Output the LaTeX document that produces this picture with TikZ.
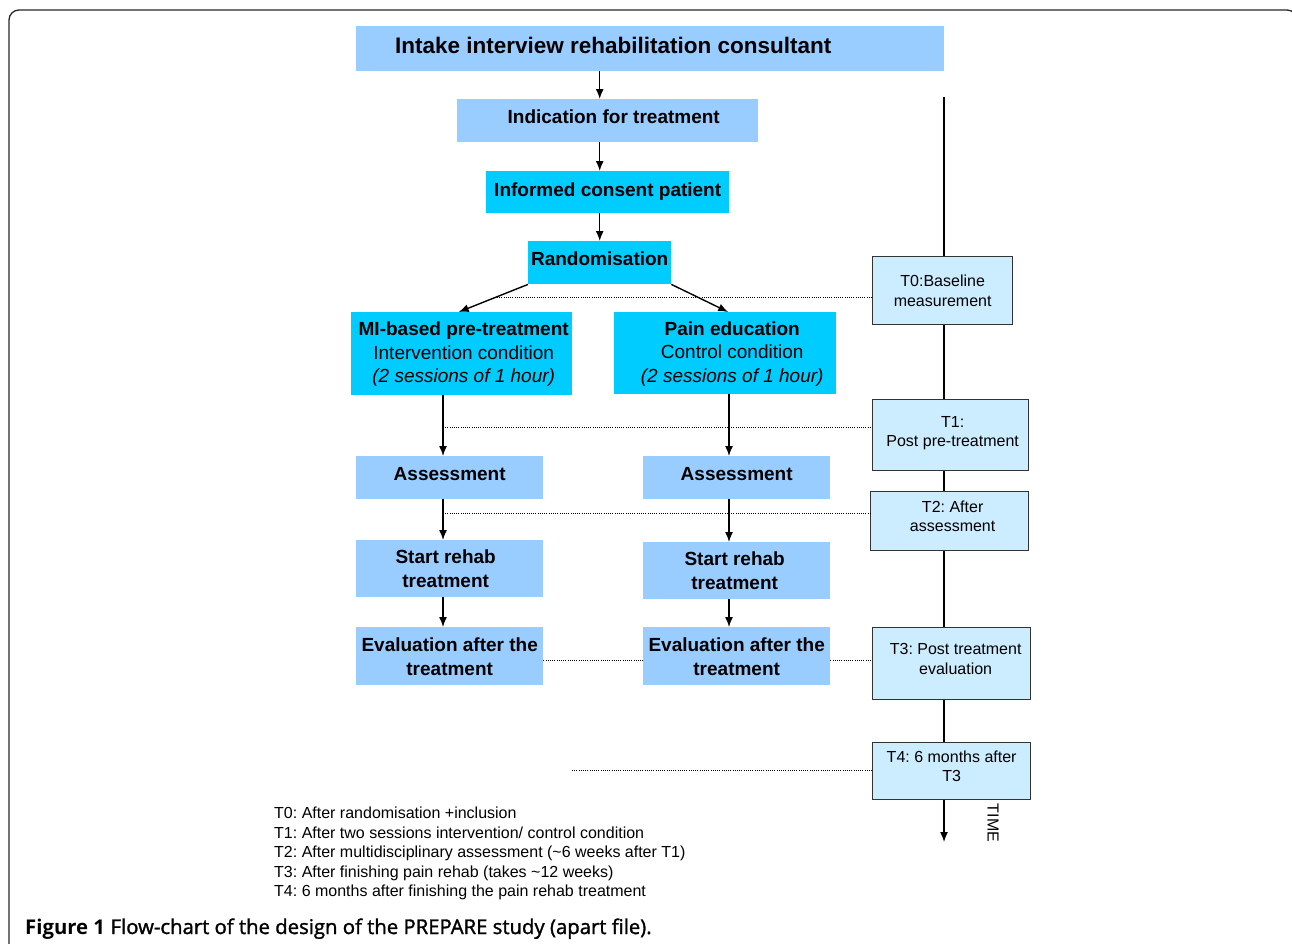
\documentclass[tikz,border=0pt]{standalone}
\usepackage{fontspec}
\setmainfont{Liberation Sans}
\newfontfamily\capfont{Open Sans}
\newfontfamily\capsemi[FakeBold=1.5]{Open Sans}
\usetikzlibrary{arrows.meta,calc}
\definecolor{lblue}{HTML}{99CCFF}
\definecolor{cyanb}{HTML}{00CCFF}
\definecolor{tbox}{HTML}{CCECFF}
\definecolor{tborder}{HTML}{333333}
\frenchspacing
\newcommand\upby[2]{\raisebox{#1}[\height][\depth]{#2}}
\newcommand\uptwo[2]{\raisebox{#1}[\height][\depth]{\begin{tabular}{@{}c@{}}#2\end{tabular}}}
\tikzset{
  box/.style={anchor=north west, inner sep=0pt, align=center, text=black},
  bluebox/.style={box, fill=lblue},
  cyanbox/.style={box, fill=cyanb},
  timebox/.style={box, fill=tbox, draw=tborder, line width=1.3pt},
  arr/.style={line width=1.4pt, -{Latex[length=10pt,width=8pt]}},
  dots/.style={line width=1pt, dash pattern=on 1pt off 1.2pt},
  big/.style={font=\fontsize{19}{23.5}\selectfont},
  bigb/.style={font=\fontsize{19}{24}\selectfont\bfseries},
  small/.style={font=\fontsize{16}{19.5}\selectfont},
}
\begin{document}
\begin{tikzpicture}[x=1pt,y=-1pt]
\useasboundingbox (0,0) rectangle (1292,943);
\clip (0,0) rectangle (1292,943);
\draw[line width=1.3pt, color=black!85, rounded corners=10pt] (9,1000) -- (9,10) -- (1297,10) -- (1297,1000);

% timeline
\coordinate (ttop) at (944,97);
\coordinate (tend) at (944,842);
\draw[arr] (ttop) -- (tend);

% main flow
\node[bluebox, minimum width=588, minimum height=45, font=\fontsize{22.5}{27}\selectfont\bfseries] (title) at (356,26) {\hspace*{-74pt}\upby{3pt}{Intake interview rehabilitation consultant}};
\node[bluebox, bigb, minimum width=301, minimum height=43] (ind) at (457,99) {\hspace*{12pt}\upby{4pt}{Indication for treatment}};
\node[cyanbox, bigb, minimum width=243, minimum height=42] (cons) at (486,171) {\upby{1pt}{Informed consent patient}};
\node[cyanbox, bigb, minimum width=143, minimum height=43] (rand) at (528,241) {\upby{4pt}{Randomisation}};

\node[cyanbox, big, minimum width=221, minimum height=83] (mi) at (351,312) {\hspace*{4pt}\uptwo{-1pt}{\textbf{MI-based pre-treatment}\\Intervention condition\\\textit{(2 sessions of 1 hour)}}};
\node[cyanbox, big, minimum width=222, minimum height=82] (pain) at (614,312) {\hspace*{14pt}\uptwo{-1pt}{\textbf{Pain education}\\Control condition\\\textit{(2 sessions of 1 hour)}}};

\node[bluebox, bigb, minimum width=187, minimum height=43] (assL) at (356,456) {\upby{4pt}{Assessment}};
\node[bluebox, bigb, minimum width=187, minimum height=43] (assR) at (643,456) {\upby{4pt}{Assessment}};
\node[bluebox, bigb, minimum width=187, minimum height=57] (startL) at (356,540) {\hspace*{-8pt}Start rehab\\\hspace*{-8pt}treatment};
\node[bluebox, bigb, minimum width=187, minimum height=57] (startR) at (643,542) {\hspace*{-4pt}Start rehab\\\hspace*{-4pt}treatment};
\node[bluebox, bigb, minimum width=187, minimum height=58] (evalL) at (356,627) {Evaluation after the\\treatment};
\node[bluebox, bigb, minimum width=187, minimum height=58] (evalR) at (643,627) {Evaluation after the\\treatment};

% time boxes
\node[timebox, small, minimum width=140, minimum height=68] (t0) at (872,256) {T0:Baseline\\measurement};
\node[timebox, small, minimum width=156, minimum height=71] (t1) at (872,399) {\hspace*{4pt}\uptwo{2pt}{T1:\\Post pre-treatment}};
\node[timebox, small, minimum width=158, minimum height=59] (t2) at (870,491) {\hspace*{6pt}\uptwo{3pt}{T2: After\\assessment}};
\node[timebox, small, minimum width=158, minimum height=72] (t3) at (872,627) {\hspace*{8pt}\uptwo{3pt}{T3: Post treatment\\evaluation}};
\node[timebox, small, minimum width=158, minimum height=57] (t4) at (872,742) {\uptwo{3pt}{T4: 6 months after\\T3}};

\node[small, rotate=-90, inner sep=0pt] (time) at (993,823) {TIME};

% arrows main
\draw[arr] (rand.north |- title.south) -- (rand.north |- ind.north);
\draw[arr] (rand.north |- ind.south) -- (rand.north |- cons.north);
\draw[arr] (rand.north |- cons.south) -- (rand.north);
\draw[arr] (rand.south west) -- ([xshift=-3pt]mi.north);
\draw[arr] (rand.south east) -- ([xshift=3pt]pain.north);

\coordinate (lc) at (443,0);
\coordinate (rc) at (729,0);
\draw[arr] (mi.south -| lc) -- (assL.north -| lc);
\draw[arr] (assL.south -| lc) -- (startL.north -| lc);
\draw[arr] (startL.south -| lc) -- (evalL.north -| lc);
\draw[arr] (pain.south -| rc) -- (assR.north -| rc);
\draw[arr] (assR.south -| rc) -- (startR.north -| rc);
\draw[arr] (startR.south -| rc) -- (evalR.north -| rc);

% dotted time lines
\coordinate (d0) at (497,297);
\coordinate (d1) at (443,427);
\coordinate (d2) at (443,513);
\coordinate (d3) at (0,660);
\coordinate (d4) at (572,770);
\draw[dots] (d0) -- (d0 -| t0.west);
\draw[dots] (d1) -- (d1 -| t1.west);
\draw[dots] (d2) -- (d2 -| t2.west);
\draw[dots] (evalL.east |- d3) -- (evalR.west |- d3);
\draw[dots] (evalR.east |- d3) -- (t3.west |- d3);
\draw[dots] (d4) -- (d4 -| t4.west);

% legend
\node[anchor=north west, inner sep=0pt, align=left, small] (legend) at (274,807) {T0: After randomisation +inclusion\\T1: After two sessions intervention/ control condition\\T2: After multidisciplinary assessment (\textasciitilde 6 weeks after T1)\\T3: After finishing pain rehab (takes \textasciitilde 12 weeks)\\T4: 6 months after finishing the pain rehab treatment};

% caption
\node[anchor=base west, inner sep=0pt, font=\fontsize{20.3}{24}\selectfont] (caption) at (25,934) {{\capfont\bfseries Figure 1} {\capsemi Flow-chart of the design of the PREPARE study (apart file).}};
\end{tikzpicture}
\end{document}
